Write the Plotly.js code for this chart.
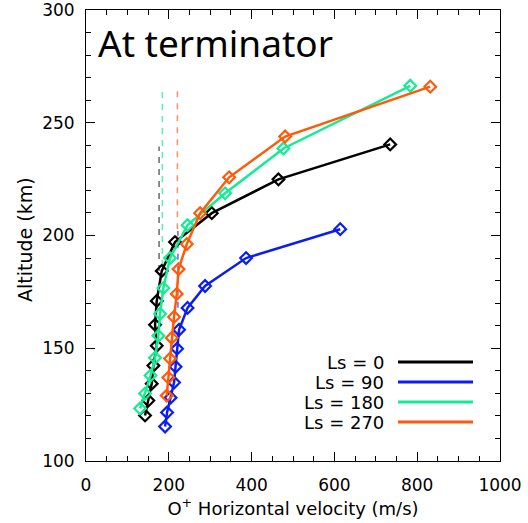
<!DOCTYPE html>
<html>
<head>
<meta charset="utf-8">
<script src="https://cdn.plot.ly/plotly-3.0.1.min.js"></script>
<style>html,body{margin:0;padding:0;background:#fff;}#chart{width:528px;height:523px;}</style>
</head>
<body>
<div id="chart"></div>
<script>
// ---- data ----
const seriesNames = ["Ls = 0", "Ls = 90", "Ls = 180", "Ls = 270"];
const seriesColors = ["#000000", "#0a1ef0", "#14ec94", "#ff5a0a"];
const dashColors = ["#6a6a6a", "#5a6af5", "#5cf0b4", "#ff9062"];

const vel_Ls0   = [142.6, 150.6, 158.8, 162.7, 170.9, 166.8, 170.9, 183.0, 215.0, 303.8, 464.8, 734.8];
const alt_Ls0   = [120.2, 126.8, 134.3, 142.3, 151.1, 160.4, 171.0, 184.3, 197.1, 209.9, 224.9, 240.4];

const vel_Ls90  = [191.0, 195.8, 204.3, 212.7, 216.3, 220.0, 224.8, 245.3, 287.6, 386.7, 614.0];
const alt_Ls90  = [115.3, 121.5, 128.1, 134.8, 141.8, 149.8, 158.2, 167.9, 177.6, 190.0, 202.8];

const vel_Ls180 = [130.5, 142.6, 155.9, 166.8, 174.8, 178.9, 186.8, 203.0, 245.3, 336.0, 476.9, 783.2];
const alt_Ls180 = [123.3, 129.9, 137.9, 145.8, 155.5, 165.3, 176.7, 190.0, 204.6, 218.7, 238.6, 266.4];

const vel_Ls270 = [195.0, 198.9, 203.0, 207.1, 212.6, 219.2, 223.6, 243.4, 275.6, 345.7, 481.0, 831.5];
const alt_Ls270 = [129.0, 137.0, 145.4, 154.6, 163.9, 174.1, 185.1, 196.2, 209.9, 225.8, 243.9, 266.0];

// dashed reference verticals: velocity, bottom altitude, top altitude
const dashVel    = [176.5, 222.0, 184.4, 220.7];
const dashAltBot = [184.3, 168.0, 186.5, 197.5];
const dashAltTop = [239.5, 202.0, 264.7, 265.1];

const xTickVals = [0, 200, 400, 600, 800, 1000];
const yTickVals = [100, 150, 200, 250, 300];

const titleText = "At terminator";
const xTitleText = "O<sup>+</sup> Horizontal velocity (m/s)";
const yTitleText = "Altitude (km)";

// ---- build ----
const vels = [vel_Ls0, vel_Ls90, vel_Ls180, vel_Ls270];
const alts = [alt_Ls0, alt_Ls90, alt_Ls180, alt_Ls270];

const traces = [];
for (let i = 0; i < 4; i++) {
  traces.push({
    x: [dashVel[i], dashVel[i]], y: [dashAltBot[i], dashAltTop[i]],
    mode: "lines", line: {color: dashColors[i], width: 1.5, dash: "6px,6px"},
    hoverinfo: "skip", showlegend: false
  });
}
for (let i = 0; i < 4; i++) {
  traces.push({
    x: vels[i], y: alts[i], name: seriesNames[i],
    mode: "lines+markers",
    line: {color: seriesColors[i], width: 2.5},
    marker: {symbol: "diamond-open", size: 9, color: seriesColors[i], line: {width: 2.2, color: seriesColors[i]}},
    showlegend: false
  });
}

const L = 86, R = 28, T = 10, B = 62, W = 528, H = 523;
const pw = W - L - R, ph = H - T - B;
const px2x = p => (p - L) / pw;
const py2y = p => 1 - (p - T) / ph;

const annotations = [];
const shapes = [];
const legRows = [362, 382, 402, 422];
for (let i = 0; i < 4; i++) {
  annotations.push({
    xref: "paper", yref: "paper", x: px2x(386), y: py2y(legRows[i]),
    xanchor: "right", yanchor: "middle", showarrow: false,
    text: seriesNames[i], font: {family: "DejaVu Sans", size: 18, color: "#000"}
  });
  shapes.push({
    type: "line", xref: "paper", yref: "paper",
    x0: px2x(398), x1: px2x(473), y0: py2y(legRows[i]), y1: py2y(legRows[i]),
    line: {color: seriesColors[i], width: 3}
  });
}
annotations.push({
  xref: "paper", yref: "paper", x: px2x(96), y: py2y(15),
  xanchor: "left", yanchor: "top", showarrow: false,
  text: titleText, font: {family: "Noto Sans", size: 37, color: "#000"}
});
annotations.push({
  xref: "paper", yref: "paper", x: px2x(25), y: py2y(240),
  xanchor: "center", yanchor: "middle", showarrow: false, textangle: -90,
  text: yTitleText, font: {family: "DejaVu Sans", size: 19, color: "#000"}
});

const axisCommon = {
  showline: true, linecolor: "#000", linewidth: 1, mirror: "ticks",
  ticks: "inside", ticklen: 9, tickwidth: 1, tickcolor: "#000",
  showgrid: false, zeroline: false, ticklabeloverflow: "allow",
  tickfont: {family: "DejaVu Sans", size: 17, color: "#000"}
};

const layout = {
  width: W, height: H,
  margin: {l: L, r: R, t: T, b: B, pad: 0},
  paper_bgcolor: "#fff", plot_bgcolor: "#fff",
  showlegend: false,
  xaxis: Object.assign({}, axisCommon, {
    range: [0, 1000], tickvals: xTickVals, ticktext: xTickVals.map(String),
    ticklabelstandoff: 9,
    minor: {dtick: 50, ticklen: 5, tickwidth: 1, tickcolor: "#000", ticks: "inside"},
    title: {text: xTitleText, font: {family: "DejaVu Sans", size: 18, color: "#000"}, standoff: 4}
  }),
  yaxis: Object.assign({}, axisCommon, {
    range: [100, 300], tickvals: yTickVals, ticktext: yTickVals.map(String),
    ticklabelstandoff: 7,
    minor: {dtick: 10, ticklen: 5, tickwidth: 1, tickcolor: "#000", ticks: "inside"}
  }),
  annotations: annotations,
  shapes: shapes
};

Plotly.newPlot("chart", traces, layout, {staticPlot: true, displayModeBar: false});
</script>
</body>
</html>
